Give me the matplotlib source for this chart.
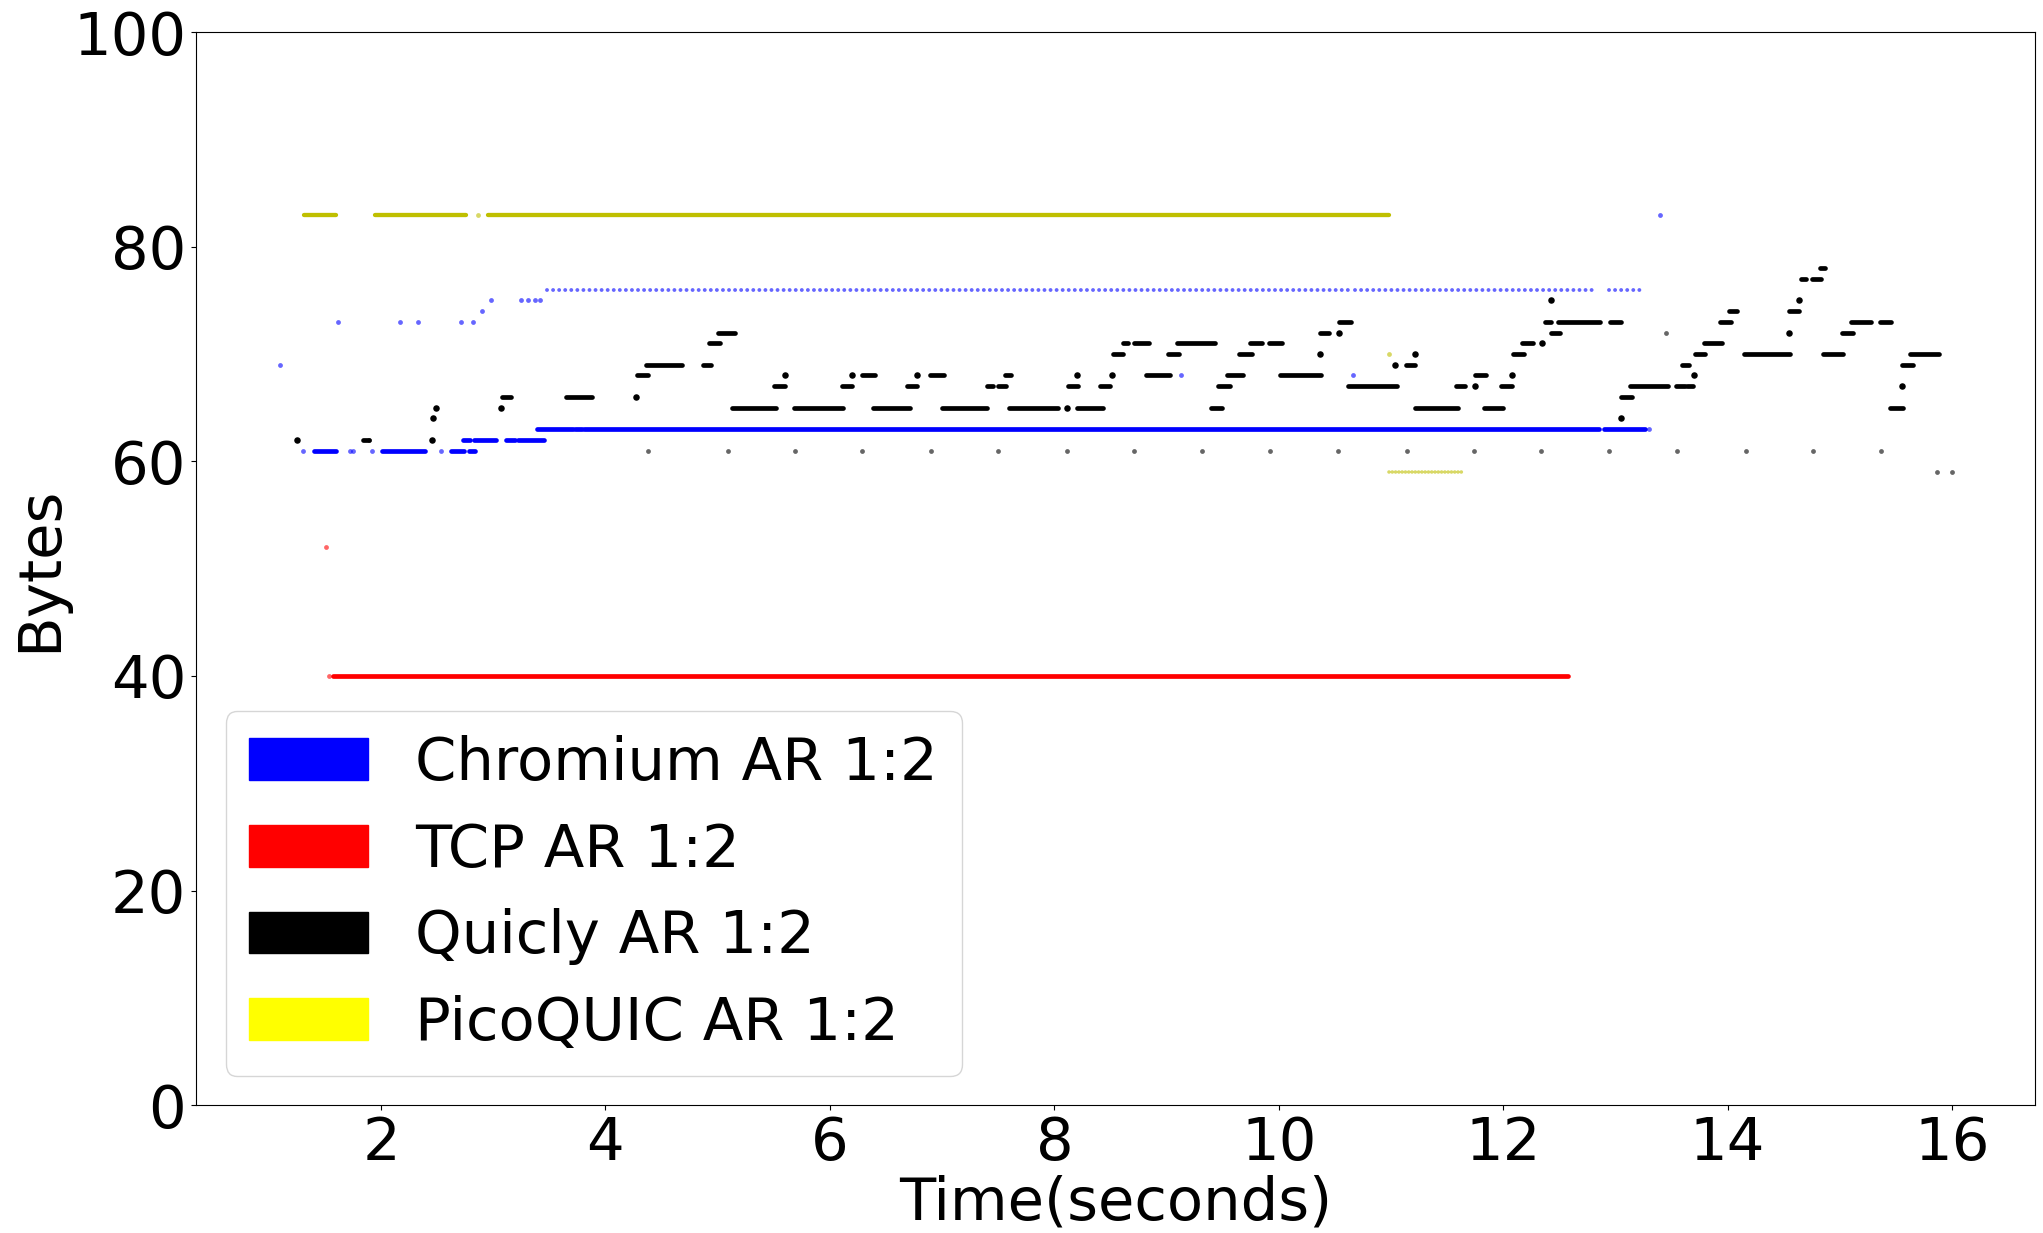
import matplotlib
matplotlib.use("Agg")
import matplotlib.pyplot as plt
from matplotlib.patches import Patch

# ---- Chromium AR 1:2 (blue) ----
# dense runs of packets: start time, end time, size
chrom_start = [1.40, 2.01, 2.62, 2.78, 2.73, 2.83, 3.11, 3.22, 3.39, 3.73, 3.81, 12.90]
chrom_end = [1.60, 2.39, 2.74, 2.84, 2.79, 3.02, 3.19, 3.45, 3.71, 3.79, 12.85, 13.26]
chrom_size = [61, 61, 61, 61, 62, 62, 62, 62, 63, 63, 63, 63]
# sparse runs (one packet every ~55 ms)
chrom_sparse_start = [3.48, 10.68, 12.94]
chrom_sparse_end = [10.63, 12.84, 13.23]
chrom_sparse_size = [76, 76, 76]
# isolated packets
chrom_pt_t = [1.10, 1.30, 1.72, 1.75, 1.92, 2.53, 1.62, 2.17, 2.33, 2.71, 2.82,
              2.90, 2.98, 3.25, 3.31, 3.37, 3.42, 9.13, 10.66, 13.30, 13.40]
chrom_pt_size = [69, 61, 61, 61, 61, 61, 73, 73, 73, 73, 73,
                 74, 75, 75, 75, 75, 75, 68, 68, 63, 83]

# ---- TCP AR 1:2 (red) ----
tcp_start = [1.57]
tcp_end = [12.58]
tcp_size = [40]
tcp_pt_t = [1.51, 1.54]
tcp_pt_size = [52, 40]

# ---- Quicly AR 1:2 (black) ----
quicly_start = [1.84, 3.08, 3.65, 4.28, 4.36, 4.87, 4.92, 5.00, 5.13, 5.50, 5.68, 6.11,
                6.29, 6.38, 6.69, 6.89, 7.00, 7.40, 7.50, 7.56, 7.60, 8.12, 8.20, 8.41,
                8.52, 8.61, 8.71, 8.82, 9.01, 9.09, 9.40, 9.46, 9.54, 9.65, 9.74, 9.91,
                10.01, 10.37, 10.54, 10.62, 11.13, 11.21, 11.58, 11.75, 11.83, 11.98,
                12.09, 12.17, 12.37, 12.43, 12.49, 12.95, 13.05, 13.13, 13.54, 13.64,
                13.59, 13.71, 13.79, 13.93, 14.01, 14.15, 14.55, 14.65, 14.75, 14.82,
                14.85, 15.02, 15.10, 15.36, 15.45, 15.55, 15.63]
quicly_end = [1.89, 3.16, 3.88, 4.38, 4.68, 4.94, 5.02, 5.15, 5.52, 5.60, 6.12, 6.20,
              6.40, 6.71, 6.78, 7.02, 7.40, 7.45, 7.57, 7.61, 8.03, 8.21, 8.43, 8.50,
              8.61, 8.66, 8.84, 9.03, 9.11, 9.43, 9.49, 9.57, 9.68, 9.76, 9.85, 10.03,
              10.38, 10.45, 10.64, 11.05, 11.21, 11.60, 11.66, 11.85, 12.00, 12.08,
              12.19, 12.27, 12.43, 12.51, 12.86, 13.05, 13.15, 13.47, 13.62, 13.69,
              13.66, 13.80, 13.95, 14.03, 14.08, 14.56, 14.64, 14.70, 14.83, 14.87,
              15.03, 15.12, 15.28, 15.46, 15.56, 15.65, 15.88]
quicly_size = [62, 66, 66, 68, 69, 69, 71, 72, 65, 67, 65, 67,
               68, 65, 67, 68, 65, 67, 67, 68, 65, 67, 65, 67,
               70, 71, 71, 68, 70, 71, 65, 67, 68, 70, 71, 71,
               68, 72, 73, 67, 69, 65, 67, 68, 65, 67,
               70, 71, 73, 72, 73, 73, 66, 67, 67, 67,
               69, 70, 71, 73, 74, 70, 74, 77, 77, 78,
               70, 72, 73, 73, 65, 69, 70]
# short bursts (a few packets on top of each other)
quicly_burst_t = [1.25, 2.45, 2.46, 2.49, 3.07, 4.27, 5.60, 6.20, 6.78, 8.11, 8.20, 8.51,
                  10.37, 10.54, 11.04, 11.21, 11.75, 12.08, 12.35, 12.43, 13.05, 13.70,
                  14.55, 14.64, 15.55]
quicly_burst_size = [62, 62, 64, 65, 65, 66, 68, 68, 68, 65, 68, 68,
                     70, 72, 69, 70, 67, 68, 71, 75, 64, 68,
                     72, 75, 67]
# single packets
quicly_pt_t = [4.38, 5.09, 5.69, 6.29, 6.90, 7.50, 8.11, 8.71, 9.32, 9.92, 10.53, 11.14,
               11.74, 12.34, 12.94, 13.55, 14.16, 14.76, 15.37, 13.45, 15.87, 16.00, 1.89]
quicly_pt_size = [61, 61, 61, 61, 61, 61, 61, 61, 61, 61, 61, 61,
                  61, 61, 61, 61, 61, 61, 61, 72, 59, 59, 62]

# ---- PicoQUIC AR 1:2 (yellow) ----
pico_start = [1.31, 1.95, 2.95]
pico_end = [1.60, 2.76, 10.98]
pico_size = [83, 83, 83]
pico_sparse_start = [10.98]
pico_sparse_end = [11.65]
pico_sparse_size = [59]
pico_pt_t = [2.86, 10.98]
pico_pt_size = [83, 70]

labels = ["Chromium AR 1:2", "TCP AR 1:2", "Quicly AR 1:2", "PicoQUIC AR 1:2"]
legend_colors = ["blue", "red", "black", "yellow"]

FS = 42.7

fig = plt.figure(figsize=(20.43, 12.33), dpi=100)
ax = fig.add_axes([0.0959, 0.1036, 0.9002, 0.8704])

dense = dict(linewidth=3.4, capstyle="round")
sparse = dict(linewidth=2.8, capstyle="round", linestyle=(0, (0.01, 1.55)), alpha=0.6)

# red
ax.hlines(tcp_size, tcp_start, tcp_end, colors="red", **dense)
ax.scatter(tcp_pt_t, tcp_pt_size, s=12, color="red", alpha=0.6, linewidths=0)

# yellow
ax.hlines(pico_size, pico_start, pico_end, colors="y", linewidth=3.1, capstyle="round")
ax.hlines(pico_sparse_size, pico_sparse_start, pico_sparse_end, colors="y",
          linewidth=2.6, capstyle="round", linestyle=(0, (0.01, 0.9)), alpha=0.6)
ax.scatter(pico_pt_t, pico_pt_size, s=12, color="y", alpha=0.6, linewidths=0)

# blue
ax.hlines(chrom_size, chrom_start, chrom_end, colors="blue", **dense)
ax.hlines(chrom_sparse_size, chrom_sparse_start, chrom_sparse_end, colors="blue", **sparse)
ax.scatter(chrom_pt_t, chrom_pt_size, s=12, color="blue", alpha=0.6, linewidths=0)

# black
ax.hlines(quicly_size, quicly_start, quicly_end, colors="black", **dense)
ax.scatter(quicly_burst_t, quicly_burst_size, s=22, color="black", linewidths=0)
ax.scatter(quicly_pt_t, quicly_pt_size, s=12, color="black", alpha=0.6, linewidths=0)

ax.set_xlim(0.35, 16.74)
ax.set_ylim(0, 100)
ax.set_xticks([2, 4, 6, 8, 10, 12, 14, 16])
ax.set_yticks([0, 20, 40, 60, 80, 100])
ax.tick_params(labelsize=FS)
ax.set_xlabel("Time(seconds)", fontsize=FS, labelpad=2)
ax.set_ylabel("Bytes", fontsize=FS)

handles = [Patch(color=c, label=l) for c, l in zip(legend_colors, labels)]
ax.legend(handles=handles, loc="lower left", fontsize=FS)

fig.savefig("out.png", dpi=100)
